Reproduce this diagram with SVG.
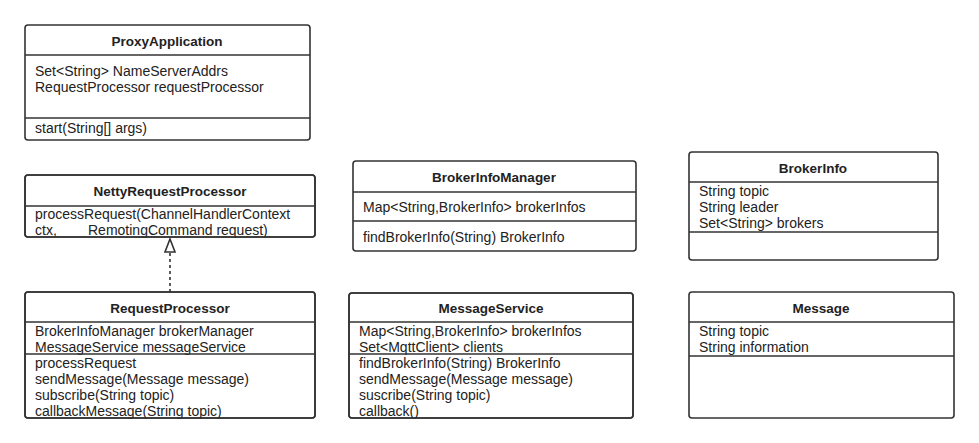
<svg xmlns="http://www.w3.org/2000/svg" width="979" height="443" viewBox="0 0 979 443">
<style>
.box{fill:#fff;stroke:#333;stroke-width:1.6}
.out{fill:none;stroke:#333;stroke-width:1.6}
.div{stroke:#333;stroke-width:1.6}
.t{font-family:"Liberation Sans",Arial,sans-serif;font-size:13.5px;fill:#222;font-weight:bold;text-anchor:middle}
.a{font-family:"Liberation Sans",Arial,sans-serif;font-size:14px;fill:#222}
</style>
<rect width="979" height="443" fill="#fff"/>

<g id="connectors">
<line x1="170" y1="292" x2="170" y2="252" stroke="#333" stroke-width="1.6" stroke-dasharray="3,3"/>
<path d="M170,239 L175,252 L165,252 Z" fill="#fff" stroke="#333" stroke-width="1.6"/>
</g>

<g id="ProxyApplication">
<rect class="box" x="25" y="25" width="285" height="115" rx="3"/>
<text class="t" x="167" y="46">ProxyApplication</text>
<line class="div" x1="25" y1="55" x2="310" y2="55"/>
<text class="a" x="35" y="76">Set&lt;String&gt; NameServerAddrs</text>
<text class="a" x="35" y="92">RequestProcessor requestProcessor</text>
<line class="div" x1="25" y1="118" x2="310" y2="118"/>
<text class="a" x="35" y="133">start(String[] args)</text>
</g>

<g id="NettyRequestProcessor">
<rect class="box" x="25" y="175" width="290" height="62" rx="3"/>
<text class="t" x="170" y="196">NettyRequestProcessor</text>
<line class="div" x1="25" y1="206" x2="315" y2="206"/>
<text class="a" x="35" y="219">processRequest(ChannelHandlerContext</text>
<text class="a" x="35" y="235">ctx,<tspan x="88">RemotingCommand request)</tspan></text>
<rect class="out" x="25" y="175" width="290" height="62" rx="3"/>
</g>

<g id="RequestProcessor">
<rect class="box" x="25" y="292" width="290" height="126" rx="3"/>
<text class="t" x="170" y="313">RequestProcessor</text>
<line class="div" x1="25" y1="322" x2="315" y2="322"/>
<text class="a" x="35" y="336">BrokerInfoManager brokerManager</text>
<text class="a" x="35" y="352">MessageService messageService</text>
<line class="div" x1="25" y1="354" x2="315" y2="354"/>
<text class="a" x="35" y="368">processRequest</text>
<text class="a" x="35" y="384">sendMessage(Message message)</text>
<text class="a" x="35" y="400">subscribe(String topic)</text>
<text class="a" x="35" y="416">callbackMessage(String topic)</text>
<rect class="out" x="25" y="292" width="290" height="126" rx="3"/>
</g>

<g id="BrokerInfoManager">
<rect class="box" x="353" y="161" width="283" height="90" rx="3"/>
<text class="t" x="494" y="182">BrokerInfoManager</text>
<line class="div" x1="353" y1="192" x2="636" y2="192"/>
<text class="a" x="363" y="212">Map&lt;String,BrokerInfo&gt; brokerInfos</text>
<line class="div" x1="353" y1="221" x2="636" y2="221"/>
<text class="a" x="363" y="242">findBrokerInfo(String) BrokerInfo</text>
</g>

<g id="MessageService">
<rect class="box" x="349" y="293" width="284" height="125" rx="3"/>
<text class="t" x="491" y="313">MessageService</text>
<line class="div" x1="349" y1="322" x2="633" y2="322"/>
<text class="a" x="359" y="336">Map&lt;String,BrokerInfo&gt; brokerInfos</text>
<text class="a" x="359" y="352">Set&lt;MqttClient&gt; clients</text>
<line class="div" x1="349" y1="354" x2="633" y2="354"/>
<text class="a" x="359" y="368">findBrokerInfo(String) BrokerInfo</text>
<text class="a" x="359" y="384">sendMessage(Message message)</text>
<text class="a" x="359" y="400">suscribe(String topic)</text>
<text class="a" x="359" y="416">callback()</text>
<rect class="out" x="349" y="293" width="284" height="125" rx="3"/>
</g>

<g id="BrokerInfo">
<rect class="box" x="689" y="152" width="249" height="108" rx="3"/>
<text class="t" x="813" y="173">BrokerInfo</text>
<line class="div" x1="689" y1="182" x2="938" y2="182"/>
<text class="a" x="699" y="196">String topic</text>
<text class="a" x="699" y="212">String leader</text>
<text class="a" x="699" y="228">Set&lt;String&gt; brokers</text>
<line class="div" x1="689" y1="232" x2="938" y2="232"/>
</g>

<g id="Message">
<rect class="box" x="689" y="292" width="265" height="126" rx="3"/>
<text class="t" x="821" y="313">Message</text>
<line class="div" x1="689" y1="322" x2="954" y2="322"/>
<text class="a" x="699" y="336">String topic</text>
<text class="a" x="699" y="352">String information</text>
<line class="div" x1="689" y1="356" x2="954" y2="356"/>
</g>
</svg>
